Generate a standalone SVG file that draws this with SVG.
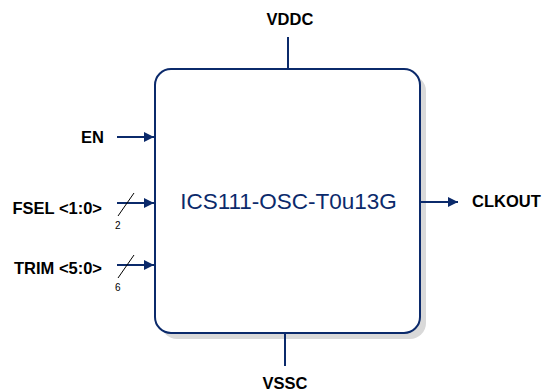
<svg xmlns="http://www.w3.org/2000/svg" width="542" height="391" viewBox="0 0 542 391">
<style>
.lbl{font-family:"Liberation Sans",Arial,sans-serif;font-weight:bold;font-size:16.5px;fill:#000}
.num{font-family:"Liberation Sans",Arial,sans-serif;font-size:10px;fill:#000}
.wire{stroke:#0b2a6b;stroke-width:2;fill:none}
.slash{stroke:#000;stroke-width:1;fill:none}
</style>
<defs>
<marker id="ah" viewBox="0 0 10 10" refX="10" refY="5" markerWidth="10" markerHeight="10" markerUnits="userSpaceOnUse" orient="auto">
<path d="M0,0 L10,5 L0,10 z" fill="#0b2a6b"/>
</marker>
</defs>
<g id="block">
<rect x="161" y="75" width="265" height="264" rx="16" fill="#d9d9d9"/>
<rect x="155" y="69" width="265" height="264" rx="16" fill="#fff" stroke="#0b2a6b" stroke-width="2"/>
<text x="288.5" y="208.5" text-anchor="middle" font-family="'Liberation Sans',Arial,sans-serif" font-size="22.5" fill="#0b2a6b">ICS111-OSC-T0u13G</text>
</g>
<g id="connectors">
<line class="wire" x1="288" y1="37" x2="288" y2="69"/>
<line class="wire" x1="285" y1="333" x2="285" y2="366"/>
<line class="wire" x1="117" y1="137" x2="154" y2="137" marker-end="url(#ah)"/>
<line class="wire" x1="117" y1="203" x2="154" y2="203" marker-end="url(#ah)"/>
<line class="wire" x1="117" y1="265" x2="154" y2="265" marker-end="url(#ah)"/>
<line class="wire" x1="421" y1="202" x2="458" y2="202" marker-end="url(#ah)"/>
<line class="slash" x1="118" y1="216" x2="134" y2="193"/>
<line class="slash" x1="118" y1="278" x2="134" y2="255"/>
</g>
<g id="labels">
<text class="lbl" x="290" y="25" text-anchor="middle">VDDC</text>
<text class="lbl" x="285" y="389" text-anchor="middle">VSSC</text>
<text class="lbl" x="104" y="143" text-anchor="end">EN</text>
<text class="lbl" x="102" y="214" text-anchor="end">FSEL &lt;1:0&gt;</text>
<text class="lbl" x="102" y="274" text-anchor="end">TRIM &lt;5:0&gt;</text>
<text class="lbl" x="472" y="207">CLKOUT</text>
<text class="num" x="115" y="229">2</text>
<text class="num" x="115" y="291">6</text>
</g>
</svg>
